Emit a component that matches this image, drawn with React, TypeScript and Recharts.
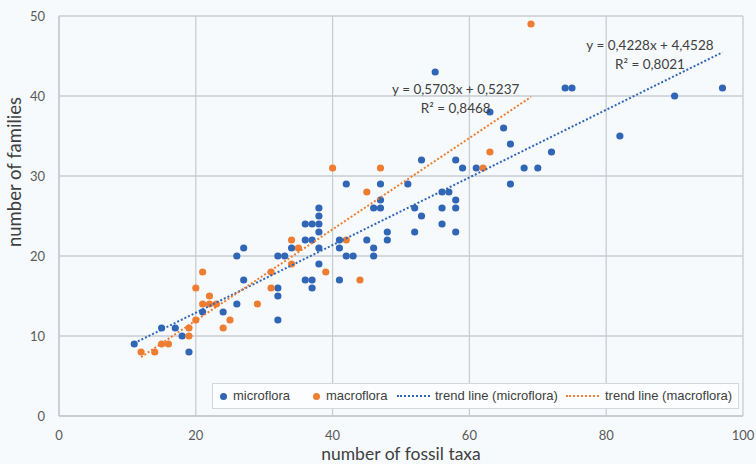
import {
  ScatterChart,
  Scatter,
  XAxis,
  YAxis,
  CartesianGrid,
  Legend,
  ReferenceDot,
} from 'recharts'

// number of fossil taxa / number of families
const MICRO_X = [11, 15, 17, 18, 19, 21, 24, 26, 26, 27, 27, 32, 32, 32, 32, 33, 34, 36, 37, 38, 38, 38, 38, 36, 37, 38, 38, 36, 37, 37, 41, 41, 41, 42, 42, 43, 45, 46, 46, 46, 47, 47, 47, 48, 48, 51, 52, 52, 53, 53, 55, 56, 56, 56, 57, 58, 58, 58, 58, 59, 61, 63, 65, 66, 66, 68, 70, 72, 74, 75, 82, 90, 97]
const MICRO_Y = [9, 11, 11, 10, 8, 13, 13, 14, 20, 21, 17, 20, 16, 15, 12, 20, 21, 24, 24, 24, 26, 25, 23, 22, 22, 21, 19, 17, 17, 16, 22, 21, 17, 29, 20, 20, 22, 26, 21, 20, 26, 27, 29, 23, 22, 29, 26, 23, 32, 25, 43, 28, 26, 24, 28, 32, 27, 26, 23, 31, 31, 38, 36, 34, 29, 31, 31, 33, 41, 41, 35, 40, 41]

const MACRO_X = [12, 14, 15, 16, 19, 19, 20, 20, 21, 21, 22, 22, 23, 24, 25, 29, 31, 31, 34, 34, 35, 39, 40, 42, 44, 45, 47, 62, 63, 69]
const MACRO_Y = [8, 8, 9, 9, 11, 10, 12, 16, 18, 14, 15, 14, 14, 11, 12, 14, 18, 16, 22, 19, 21, 18, 31, 22, 17, 28, 31, 31, 33, 49]

// trend lines as printed on the chart
const MICRO_TREND = { slope: 0.4228, intercept: 4.4528, r2: '0,8021', eq: 'y = 0,4228x  + 4,4528' }
const MACRO_TREND = { slope: 0.5703, intercept: 0.5237, r2: '0,8468', eq: 'y = 0,5703x  + 0,5237' }

const X_TICKS = [0, 20, 40, 60, 80, 100]
const Y_TICKS = [0, 10, 20, 30, 40, 50]

const BLUE = '#3166b6'
const ORANGE = '#ee7d31'
const BG = '#f7fafd'
const GRID = '#c9cdd0'
const FONT = 'Lato, "Noto Sans", sans-serif'

const microData = MICRO_X.map((x, i) => ({ x, y: MICRO_Y[i] }))
const macroData = MACRO_X.map((x, i) => ({ x, y: MACRO_Y[i] }))

function trendData(xs: number[], t: { slope: number; intercept: number }) {
  const lo = Math.min(...xs)
  const hi = Math.max(...xs)
  return [lo, hi].map((x) => ({ x, y: t.slope * x + t.intercept }))
}

const Dot = (props: any) => <circle cx={props.cx} cy={props.cy} r={3.6} fill={props.fill} />
const NoShape = () => <g />

function EquationLabel({ viewBox, eq, r2 }: any) {
  const cx = viewBox.x + (viewBox.width || 0) / 2
  const cy = viewBox.y + (viewBox.height || 0) / 2
  return (
    <g fontFamily={FONT} fontSize={13.5} fill="#404040" textAnchor="middle">
      <text x={cx} y={cy} dominantBaseline="central">{eq}</text>
      <text x={cx} y={cy + 19} dominantBaseline="central">R² = {r2}</text>
    </g>
  )
}

// legend entries: left offset of marker and label inside the box
const LEGEND_ITEMS = [
  { label: 'microflora', color: BLUE, kind: 'dot', mark: 7, text: 20 },
  { label: 'macroflora', color: ORANGE, kind: 'dot', mark: 100, text: 113 },
  { label: 'trend line (microflora)', color: BLUE, kind: 'line', mark: 184, text: 222 },
  { label: 'trend line (macroflora)', color: ORANGE, kind: 'line', mark: 353, text: 392 },
]

function LegendBox() {
  return (
    <div
      style={{
        position: 'relative',
        width: 527,
        height: 26,
        boxSizing: 'border-box',
        border: '1px solid #d3d7da',
        background: '#fbfdfe',
        fontFamily: '"Liberation Sans", Arial, sans-serif',
        fontSize: 13,
        color: '#404040',
      }}
    >
      {LEGEND_ITEMS.map((it) => (
        <div key={it.label}>
          {it.kind === 'dot' ? (
            <span
              style={{
                position: 'absolute',
                left: it.mark,
                top: 8.5,
                width: 7,
                height: 7,
                borderRadius: '50%',
                background: it.color,
              }}
            />
          ) : (
            <span
              style={{
                position: 'absolute',
                left: it.mark,
                top: 11,
                width: 33,
                height: 0,
                borderTop: `2px dotted ${it.color}`,
              }}
            />
          )}
          <span style={{ position: 'absolute', left: it.text, top: 4, whiteSpace: 'nowrap' }}>{it.label}</span>
        </div>
      ))}
    </div>
  )
}

export default function App() {
  const tick = { fontSize: 13, fill: '#595959', fontFamily: FONT }
  return (
    <div style={{ position: 'absolute', left: 0, top: 0, width: 756, height: 464, background: BG }}>
      <ScatterChart width={756} height={464} margin={{ top: 16, right: 13, bottom: 0, left: 0 }}>
        <CartesianGrid stroke={GRID} strokeWidth={1.3} />
        <XAxis
          type="number"
          dataKey="x"
          domain={[0, 100]}
          ticks={X_TICKS}
          height={48}
          tickLine={false}
          tickSize={6}
          tickMargin={9}
          axisLine={{ stroke: '#bfc3c6' }}
          tick={tick}
          label={(p: any) => (
            <text
              x={p.viewBox.x + p.viewBox.width / 2}
              y={p.viewBox.y + 37}
              textAnchor="middle"
              dominantBaseline="central"
              fontFamily={FONT}
              fontSize={17.5}
              fill="#404040"
            >
              number of fossil taxa
            </text>
          )}
        />
        <YAxis
          type="number"
          dataKey="y"
          domain={[0, 50]}
          ticks={Y_TICKS}
          width={59}
          tickLine={false}
          tickSize={6}
          tickMargin={8}
          axisLine={{ stroke: '#bfc3c6' }}
          tick={tick}
          label={(p: any) => (
            <text
              x={14}
              y={p.viewBox.y + 156}
              transform={`rotate(-90, 14, ${p.viewBox.y + 156})`}
              textAnchor="middle"
              dominantBaseline="central"
              fontFamily={FONT}
              fontSize={18.5}
              fill="#404040"
            >
              number of families
            </text>
          )}
        />
        <Scatter name="microflora" data={microData} fill={BLUE} shape={Dot} isAnimationActive={false} />
        <Scatter name="macroflora" data={macroData} fill={ORANGE} shape={Dot} isAnimationActive={false} />
        <Scatter
          name="trend line (microflora)"
          data={trendData(MICRO_X, MICRO_TREND)}
          fill={BLUE}
          line={{ strokeWidth: 2, strokeDasharray: '2 2' }}
          shape={NoShape}
          isAnimationActive={false}
        />
        <Scatter
          name="trend line (macroflora)"
          data={trendData(MACRO_X, MACRO_TREND)}
          fill={ORANGE}
          line={{ strokeWidth: 2, strokeDasharray: '2 2' }}
          shape={NoShape}
          isAnimationActive={false}
        />
        <ReferenceDot
          x={58}
          y={40.9}
          r={0}
          fill="none"
          stroke="none"
          label={(p: any) => <EquationLabel viewBox={p.viewBox} eq={MACRO_TREND.eq} r2={MACRO_TREND.r2} />}
        />
        <ReferenceDot
          x={86.4}
          y={46.4}
          r={0}
          fill="none"
          stroke="none"
          label={(p: any) => <EquationLabel viewBox={p.viewBox} eq={MICRO_TREND.eq} r2={MICRO_TREND.r2} />}
        />
        <Legend
          layout="horizontal"
          verticalAlign="middle"
          align="center"
          wrapperStyle={{ position: 'absolute', left: 212, top: 383, width: 527, height: 26 }}
          content={() => <LegendBox />}
        />
      </ScatterChart>
    </div>
  )
}
